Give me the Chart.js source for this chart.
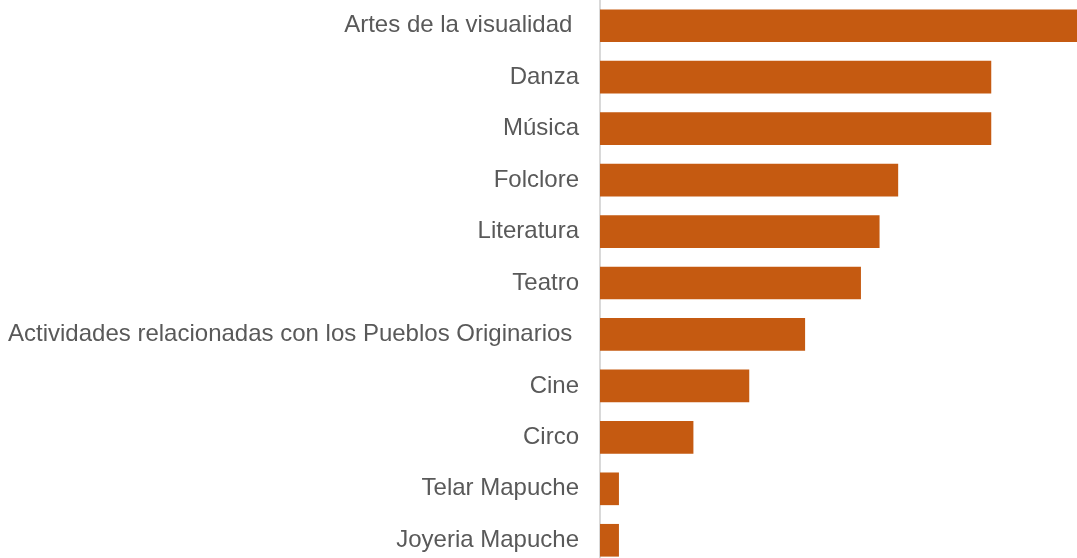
<!DOCTYPE html>
<html>
<head>
<meta charset="utf-8">
<script src="https://cdn.jsdelivr.net/npm/chart.js@4/dist/chart.umd.min.js"></script>
<style>
  html, body { margin: 0; padding: 0; background: #fff; overflow: hidden; }
  .chart-wrap { position: relative; width: 1084px; height: 566px; }
</style>
</head>
<body>
<div class="chart-wrap"><canvas id="chart-bar"></canvas></div>
<script>
const categories = [
  "Artes de la visualidad ",
  "Danza",
  "Música",
  "Folclore",
  "Literatura",
  "Teatro",
  "Actividades relacionadas con los Pueblos Originarios ",
  "Cine",
  "Circo",
  "Telar Mapuche",
  "Joyeria Mapuche",
];
const values = [26, 21, 21, 16, 15, 14, 11, 8, 5, 1, 1];

var ctx = document.getElementById("chart-bar").getContext("2d");
new Chart(ctx, {
  type: "bar",
  data: {
    labels: categories,
    datasets: [
      {
        data: values,
        backgroundColor: "#C55A11",
        borderWidth: 0,
        barThickness: 32,
      },
    ],
  },
  options: {
    indexAxis: "y",
    responsive: true,
    maintainAspectRatio: false,
    animation: false,
    layout: { padding: 0 },
    plugins: {
      legend: { display: false },
      tooltip: { enabled: false },
    },
    scales: {
      x: {
        display: false,
        min: 0,
        max: 26,
      },
      y: {
        afterFit: (scale) => {
          // fixed label column, no extra room above/below the bars
          scale.width = 600;
          scale.paddingTop = 0;
          scale.paddingBottom = 0;
        },
        grid: {
          display: false,
          drawTicks: false,
        },
        border: {
          display: true,
          color: "#d9d9d9",
          width: 2,
        },
        ticks: {
          padding: 21,
          color: "#595959",
          font: {
            size: 24,
            family: "Liberation Sans",
          },
        },
      },
    },
  },
});
</script>
</body>
</html>
